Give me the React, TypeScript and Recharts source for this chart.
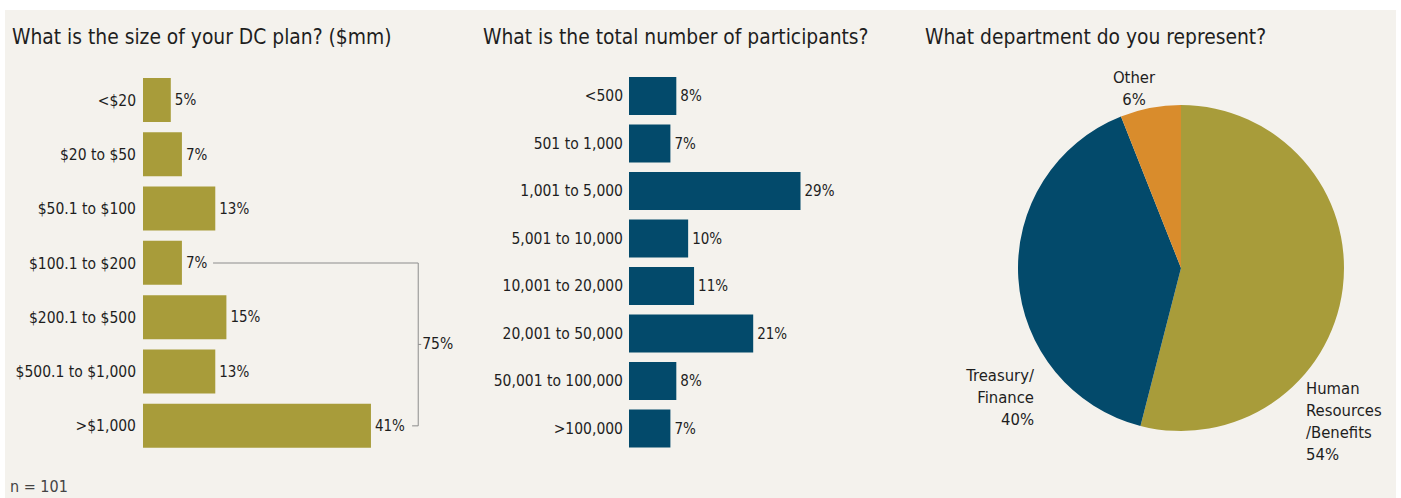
import React from 'react';
import { BarChart, Bar, XAxis, YAxis, LabelList, ReferenceLine, PieChart, Pie, Cell } from 'recharts';

const sizeCategories = ['<$20', '$20 to $50', '$50.1 to $100', '$100.1 to $200', '$200.1 to $500', '$500.1 to $1,000', '>$1,000'];
const sizeValues = [5, 7, 13, 7, 15, 13, 41];
const bracketStart = '$100.1 to $200';
const bracketEnd = '>$1,000';
const bracketLabel = '75%';

const participantCategories = ['<500', '501 to 1,000', '1,001 to 5,000', '5,001 to 10,000', '10,001 to 20,000', '20,001 to 50,000', '50,001 to 100,000', '>100,000'];
const participantValues = [8, 7, 29, 10, 11, 21, 8, 7];

const departmentNames = [['Human', 'Resources', '/Benefits'], ['Treasury/', 'Finance'], ['Other']];
const departmentValues = [54, 40, 6];

const titles = ['What is the size of your DC plan? ($mm)', 'What is the total number of participants?', 'What department do you represent?'];
const sampleNote = 'n = 101';

const OLIVE = '#A89C3A';
const NAVY = '#034A6B';
const ORANGE = '#D98C2C';
const BG = '#F4F2ED';
const AXIS = '#8c8c8c';
const TEXT = '#1e1e1e';
const FONT = "'DejaVu Sans Condensed', 'DejaVu Sans', sans-serif";

const sizeData = sizeCategories.map((c, i) => ({ label: c, value: sizeValues[i] }));
const participantData = participantCategories.map((c, i) => ({ label: c, value: participantValues[i] }));
const departmentData = departmentNames.map((n, i) => ({ name: n.join(' '), lines: [...n, `${departmentValues[i]}%`], value: departmentValues[i] }));
const pieColors = [OLIVE, NAVY, ORANGE];
// label placement relative to pie centre (style only)
const pieLabelLayout = [
  { dx: 125, dy: 126, anchor: 'start' },
  { dx: -147, dy: 113, anchor: 'end' },
  { dx: -47, dy: -185, anchor: 'middle' },
];

const pct = (v: any) => `${v}%`;

const renderPieLabel = (props: any) => {
  const { cx, cy, index } = props;
  const lay = pieLabelLayout[index];
  const d = departmentData[index];
  return (
    <text x={cx + lay.dx} y={cy + lay.dy} textAnchor={lay.anchor} fill={TEXT} fontSize={16.5} fontFamily={FONT}>
      {d.lines.map((l, i) => (
        <tspan key={i} x={cx + lay.dx} dy={i === 0 ? 0 : 22}>{l}</tspan>
      ))}
    </text>
  );
};

const BracketLabel = (props: any) => {
  const vb = props.viewBox || {};
  const x = vb.x ?? 0;
  const y = (vb.y ?? 0) + (vb.height ?? 0) / 2;
  return (
    <g>
      <line x1={x} x2={x + 3} y1={y} y2={y} stroke={AXIS} />
      <text x={x + 4} y={y} dy={5} fill={TEXT} fontSize={15.5} fontFamily={FONT}>{bracketLabel}</text>
    </g>
  );
};

const tickStyle = { fill: TEXT, fontSize: 15.5, fontFamily: FONT };

export default function App() {
  return (
    <div style={{ position: 'absolute', left: 0, top: 0, width: 1401, height: 498, background: '#fff', overflow: 'hidden' }}>
      <div style={{ position: 'absolute', left: 5, top: 10, width: 1391, height: 488, background: BG }} />
      {titles.map((t, i) => (
        <div key={i} style={{ position: 'absolute', left: [12, 483, 925][i], top: 26, fontSize: 20.8, lineHeight: '22px', color: TEXT, fontFamily: FONT, whiteSpace: 'nowrap' }}>{t}</div>
      ))}
      <div style={{ position: 'absolute', left: 10, top: 478, fontSize: 16, lineHeight: '18px', color: '#444', fontFamily: FONT }}>{sampleNote}</div>

      <div style={{ position: 'absolute', left: 0, top: 0 }}>
        <BarChart layout="vertical" width={470} height={498} data={sizeData} margin={{ top: 73, right: 49, bottom: 45, left: 0 }} barSize={44}>
          <XAxis type="number" domain={[0, 50]} hide />
          <YAxis yAxisId="grid" type="number" domain={[0, 7]} ticks={[0, 1, 2, 3, 4, 5, 6, 7]} width={0} tick={false} tickSize={4} axisLine={{ stroke: AXIS }} tickLine={{ stroke: AXIS }} allowDataOverflow />
          <YAxis yAxisId="cat" type="category" dataKey="label" width={143} axisLine={false} tickLine={false} tickSize={0} tickMargin={7} tick={tickStyle} interval={0} />
          <Bar yAxisId="cat" dataKey="value" fill={OLIVE} isAnimationActive={false}>
            <LabelList dataKey="value" position="right" offset={4} formatter={pct} fill={TEXT} fontSize={15} fontFamily={FONT} />
          </Bar>
          <ReferenceLine yAxisId="cat" segment={[{ x: 12.6, y: bracketStart }, { x: 49.5, y: bracketStart }]} stroke={AXIS} />
          <ReferenceLine yAxisId="cat" segment={[{ x: 48.4, y: bracketEnd }, { x: 49.5, y: bracketEnd }]} stroke={AXIS} />
          <ReferenceLine yAxisId="cat" segment={[{ x: 49.5, y: bracketStart }, { x: 49.5, y: bracketEnd }]} stroke={AXIS} label={<BracketLabel />} />
        </BarChart>
      </div>

      <div style={{ position: 'absolute', left: 470, top: 0 }}>
        <BarChart layout="vertical" width={400} height={498} data={participantData} margin={{ top: 72, right: 34, bottom: 46, left: 0 }} barSize={38}>
          <XAxis type="number" domain={[0, 35]} hide />
          <YAxis yAxisId="grid" type="number" domain={[0, 8]} ticks={[0, 1, 2, 3, 4, 5, 6, 7, 8]} width={0} tick={false} tickSize={4} axisLine={{ stroke: AXIS }} tickLine={{ stroke: AXIS }} allowDataOverflow />
          <YAxis yAxisId="cat" type="category" dataKey="label" width={159} axisLine={false} tickLine={false} tickSize={0} tickMargin={6} tick={tickStyle} interval={0} />
          <Bar yAxisId="cat" dataKey="value" fill={NAVY} isAnimationActive={false}>
            <LabelList dataKey="value" position="right" offset={4} formatter={pct} fill={TEXT} fontSize={15} fontFamily={FONT} />
          </Bar>
        </BarChart>
      </div>

      <div style={{ position: 'absolute', left: 900, top: 0 }}>
        <PieChart width={501} height={498} margin={{ top: 0, right: 0, bottom: 0, left: 0 }}>
          <Pie data={departmentData} dataKey="value" nameKey="name" cx={281} cy={268} outerRadius={163} startAngle={90} endAngle={-270} stroke="none" label={renderPieLabel} labelLine={false} isAnimationActive={false}>
            {departmentData.map((d, i) => (
              <Cell key={i} fill={pieColors[i]} />
            ))}
          </Pie>
        </PieChart>
      </div>
    </div>
  );
}
